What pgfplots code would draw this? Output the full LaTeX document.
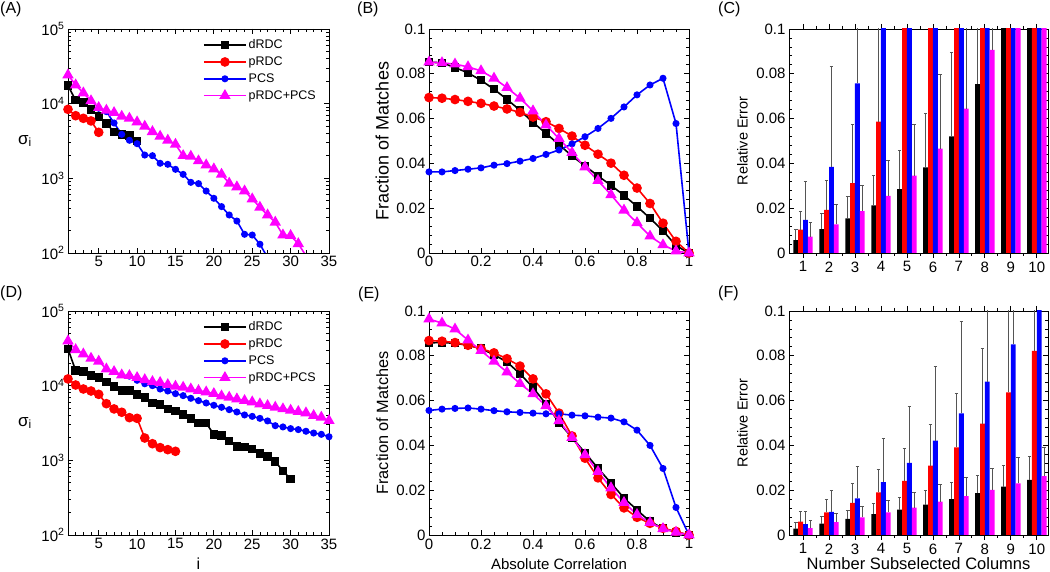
\documentclass[border=0pt]{standalone}
\usepackage{pgfplots}
\pgfplotsset{compat=1.18}
\usepackage{fontspec}
\setmainfont{Liberation Sans}
\definecolor{cblk}{RGB}{0,0,0}
\definecolor{cred}{RGB}{255,0,0}
\definecolor{cblu}{RGB}{0,0,255}
\definecolor{cmag}{RGB}{255,0,255}
\definecolor{cerr}{RGB}{85,85,85}
\pgfplotsset{
  every axis/.append style={
    scale only axis,
    axis line style={line width=0.9pt},
    every tick/.style={black, line width=0.8pt},
    major tick length=5pt,
    minor tick length=3pt,
    tick align=inside,
    tick label style={font=\fontsize{15}{17}\selectfont},
    label style={font=\fontsize{15}{17}\selectfont},
  },
  sblk/.style={line width=1.6pt, cblk, mark=square*, mark size=3.4pt},
  sred/.style={line width=1.6pt, cred, mark=*, mark size=4pt},
  sblu/.style={line width=1.6pt, cblu, mark=*, mark size=2.7pt},
  smag/.style={line width=1.6pt, cmag, mark=triangle*, mark size=5pt},
  errs/.style={error bars/.cd, y dir=plus, y explicit,
    error bar style={cerr, line width=0.8pt},
    error mark options={cerr, rotate=90, mark size=1.8pt, line width=0.8pt}},
}
\begin{document}
\begin{tikzpicture}[x=1pt,y=1pt]
% ---------------- (A)
\begin{axis}[at={(68pt,319pt)}, anchor=south west, width=261pt, height=224pt,
  ymode=log, xmin=1, xmax=35, ymin=100, ymax=100000,
  xtick={5,10,...,35}, minor xtick={1,...,35},
  ytick={100,1000,10000,100000},
  yticklabels={10\textsuperscript{2},10\textsuperscript{3},10\textsuperscript{4},10\textsuperscript{5}},
  xticklabel style={/pgf/number format/assume math mode=true},
  ylabel={σ\textsubscript{i}},
  ylabel style={rotate=-90, at={(axis description cs:-0.165,0.5)}, anchor=center, font=\fontsize{17}{19}\selectfont},
  legend style={draw=none, fill=none, at={(axis description cs:0.517,0.962)}, anchor=north west,
      font=\fontsize{12.5}{14}\selectfont, row sep=2.6pt, inner sep=0pt},
  legend cell align=left,
  legend image code/.code={\draw[mark repeat=2,mark phase=2] plot coordinates {(0pt,0pt)(21pt,0pt)(42pt,0pt)};}]
\addplot[sblk] coordinates {(1,17400)(2,11100)(3,10400)(4,8320)(5,6770)(6,5400)(7,4210)(8,3880)(9,3730)(10,3160)};
\addlegendentry{dRDC}
\addplot[sred] coordinates {(1,8390)(2,6900)(3,6360)(4,5870)(5,4130)};
\addlegendentry{pRDC}
\addplot[sblu] coordinates {(5,8670)(6,7820)(7,5510)(8,3880)(9,3230)(10,2910)(11,2050)(12,2010)(13,1590)(14,1540)(15,1320)(16,1130)(17,884)(18,849)(19,676)(20,540)(21,418)(22,323)(23,268)(24,178)(25,174)(26,131)(27,87)};
\addlegendentry{PCS}
\addplot[smag] coordinates {(1,24200)(2,17800)(3,13900)(4,10900)(5,8840)(6,8140)(7,7570)(8,6760)(9,6360)(10,5680)(11,4970)(12,4210)(13,3650)(14,3230)(15,2850)(16,2010)(17,1970)(18,1710)(19,1510)(20,1335)(21,1130)(22,858)(23,766)(24,676)(25,529)(26,409)(27,323)(28,258)(29,174)(30,171)(31,133)(32,92)};
\addlegendentry{pRDC+PCS}
\end{axis}
% ---------------- (B)
\begin{axis}[at={(429pt,319pt)}, anchor=south west, width=260pt, height=224pt,
  xmin=0, xmax=1, ymin=0, ymax=0.1,
  xtick={0,0.2,0.4,0.6,0.8,1}, xticklabels={0,0.2,0.4,0.6,0.8,1}, minor x tick num=3,
  ytick={0,0.02,0.04,0.06,0.08,0.1}, yticklabels={0,0.02,0.04,0.06,0.08,0.1}, minor y tick num=4,
  ylabel={Fraction of Matches},
  ylabel style={at={(axis description cs:-0.18,0.5)}, anchor=center, font=\fontsize{18}{20}\selectfont}]
\addplot[sblk] coordinates {(0,0.0852)(0.05,0.0849)(0.1,0.0828)(0.15,0.0804)(0.2,0.0771)(0.25,0.0731)(0.3,0.0686)(0.35,0.0637)(0.4,0.0583)(0.45,0.0534)(0.5,0.0484)(0.55,0.0433)(0.6,0.0389)(0.65,0.0344)(0.7,0.0302)(0.75,0.0257)(0.8,0.0208)(0.85,0.0155)(0.9,0.0099)(0.95,0.0033)(1,0)};
\addplot[sred] coordinates {(0,0.0694)(0.05,0.0691)(0.1,0.0685)(0.15,0.0677)(0.2,0.0668)(0.25,0.0656)(0.3,0.0643)(0.35,0.0628)(0.4,0.0607)(0.45,0.0586)(0.5,0.0556)(0.55,0.0522)(0.6,0.0481)(0.65,0.0441)(0.7,0.0401)(0.75,0.0347)(0.8,0.029)(0.85,0.0221)(0.9,0.0133)(0.95,0.0052)(1,0)};
\addplot[sblu] coordinates {(0,0.0362)(0.05,0.0362)(0.1,0.0368)(0.15,0.0374)(0.2,0.038)(0.25,0.0392)(0.3,0.0399)(0.35,0.041)(0.4,0.0422)(0.45,0.044)(0.5,0.046)(0.55,0.0487)(0.6,0.0519)(0.65,0.0556)(0.7,0.0601)(0.75,0.0652)(0.8,0.0706)(0.85,0.075)(0.9,0.078)(0.95,0.0578)(1,0)};
\addplot[smag] coordinates {(0,0.0852)(0.05,0.0849)(0.1,0.0843)(0.15,0.0831)(0.2,0.0813)(0.25,0.078)(0.3,0.0738)(0.35,0.0691)(0.4,0.0634)(0.45,0.0571)(0.5,0.0511)(0.55,0.0448)(0.6,0.0384)(0.65,0.0323)(0.7,0.026)(0.75,0.0191)(0.8,0.0135)(0.85,0.0075)(0.9,0.0036)(0.95,0.0009)(1,0)};
\end{axis}
% ---------------- (C)
\begin{axis}[at={(789pt,319pt)}, anchor=south west, width=259pt, height=224pt,
  xmin=0.46, xmax=10.43, ymin=0, ymax=0.1, ybar=0pt, bar width=4.85pt,
  xtick={1,...,10}, minor x tick num=1,
  xticklabel style={/pgf/number format/assume math mode=true},
  ytick={0,0.02,0.04,0.06,0.08,0.1}, yticklabels={0,0.02,0.04,0.06,0.08,0.1}, minor y tick num=4,
  ylabel={Relative Error},
  ylabel style={at={(axis description cs:-0.18,0.5)}, anchor=center, font=\fontsize{14.5}{16}\selectfont}]
\addplot[fill=cblk, draw=none, errs] table[x=x, y=y, y error=e] {
x y e
1 0.0058 0.0049
2 0.0106 0.0072
3 0.0155 0.0099
4 0.0213 0.0132
5 0.0285 0.0172
6 0.0382 0.0243
7 0.0521 0.0376
8 0.0754 0.0500
9 0.2 0
10 0.2 0
};
\addplot[fill=cred, draw=none, errs] table[x=x, y=y, y error=e] {
x y e
1 0.0104 0.0081
2 0.0193 0.0129
3 0.0312 0.0261
4 0.0587 0.0600
5 0.2 0
6 0.2 0
7 0.2 0
8 0.2 0
9 0.2 0
10 0.2 0
};
\addplot[fill=cblu, draw=none, errs] table[x=x, y=y, y error=e] {
x y e
1 0.0148 0.0173
2 0.0385 0.0448
3 0.0757 0.0600
4 0.2 0
5 0.2 0
6 0.2 0
7 0.2 0
8 0.2 0
9 0.2 0
10 0.2 0
};
\addplot[fill=cmag, draw=none, errs] table[x=x, y=y, y error=e] {
x y e
1 0.0073 0.0063
2 0.0128 0.0090
3 0.0187 0.0116
4 0.0255 0.0160
5 0.0345 0.0228
6 0.0466 0.0333
7 0.0645 0.0600
8 0.0907 0.0500
9 0.2 0
10 0.2 0
};
\end{axis}
% ---------------- (D)
\begin{axis}[at={(68pt,37pt)}, anchor=south west, width=261pt, height=224pt,
  ymode=log, xmin=1, xmax=35, ymin=100, ymax=100000,
  xtick={5,10,...,35}, minor xtick={1,...,35},
  ytick={100,1000,10000,100000},
  yticklabels={10\textsuperscript{2},10\textsuperscript{3},10\textsuperscript{4},10\textsuperscript{5}},
  xticklabel style={/pgf/number format/assume math mode=true},
  ylabel={σ\textsubscript{i}},
  ylabel style={rotate=-90, at={(axis description cs:-0.165,0.5)}, anchor=center, font=\fontsize{17}{19}\selectfont},
  xlabel={i}, xlabel style={at={(axis description cs:0.5,-0.152)}, anchor=base, font=\fontsize{16}{18}\selectfont},
  legend style={draw=none, fill=none, at={(axis description cs:0.517,0.962)}, anchor=north west,
      font=\fontsize{12.5}{14}\selectfont, row sep=2.6pt, inner sep=0pt},
  legend cell align=left,
  legend image code/.code={\draw[mark repeat=2,mark phase=2] plot coordinates {(0pt,0pt)(21pt,0pt)(42pt,0pt)};}]
\addplot[sblk] coordinates {(1,31000)(2,15900)(3,15400)(4,13600)(5,12800)(6,11100)(7,9800)(8,8660)(9,8570)(10,7650)(11,6900)(12,5870)(13,5620)(14,4880)(15,4580)(16,4130)(17,3650)(18,3160)(19,3160)(20,2210)(21,2140)(22,1800)(23,1540)(24,1510)(25,1420)(26,1230)(27,1130)(28,970)(29,713)(30,563)};
\addlegendentry{dRDC}
\addplot[sred] coordinates {(1,12300)(2,10200)(3,9020)(4,8480)(5,7650)(6,5740)(7,4880)(8,4400)(9,3730)(10,3650)(11,1990)(12,1670)(13,1480)(14,1390)(15,1320)};
\addlegendentry{pRDC}
\addplot[sblu] coordinates {(9,13400)(10,11800)(11,10600)(12,10000)(13,9020)(14,8480)(15,7810)(16,7350)(17,6770)(18,6300)(19,5860)(20,5460)(21,5130)(22,4770)(23,4440)(24,4050)(25,3880)(26,3650)(27,3370)(28,2910)(29,2800)(30,2660)(31,2580)(32,2450)(33,2320)(34,2230)(35,2070)};
\addlegendentry{PCS}
\addplot[smag] coordinates {(1,39600)(2,30300)(3,26500)(4,23200)(5,21200)(6,16700)(7,15400)(8,13900)(9,13600)(10,12800)(11,12000)(12,11300)(13,11000)(14,10300)(15,9790)(16,9500)(17,9020)(18,8570)(19,8220)(20,7810)(21,7270)(22,6980)(23,6630)(24,6300)(25,6040)(26,5680)(27,5400)(28,5130)(29,4880)(30,4680)(31,4490)(32,4310)(33,3970)(34,3770)(35,3400)};
\addlegendentry{pRDC+PCS}
\end{axis}
% ---------------- (E)
\begin{axis}[at={(429pt,37pt)}, anchor=south west, width=260pt, height=224pt,
  xmin=0, xmax=1, ymin=0, ymax=0.1,
  xtick={0,0.2,0.4,0.6,0.8,1}, xticklabels={0,0.2,0.4,0.6,0.8,1}, minor x tick num=3,
  ytick={0,0.02,0.04,0.06,0.08,0.1}, yticklabels={0,0.02,0.04,0.06,0.08,0.1}, minor y tick num=4,
  ylabel={Fraction of Matches},
  ylabel style={at={(axis description cs:-0.18,0.5)}, anchor=center, font=\fontsize{16.3}{18}\selectfont},
  xlabel={Absolute Correlation}, xlabel style={at={(axis description cs:0.5,-0.152)}, anchor=base, font=\fontsize{15}{17}\selectfont}]
\addplot[sblk] coordinates {(0,0.0858)(0.05,0.0859)(0.1,0.0856)(0.15,0.0847)(0.2,0.0832)(0.25,0.0805)(0.3,0.0772)(0.35,0.072)(0.4,0.0658)(0.45,0.0585)(0.5,0.0502)(0.55,0.0435)(0.6,0.0367)(0.65,0.0298)(0.7,0.0232)(0.75,0.0165)(0.8,0.0112)(0.85,0.006)(0.9,0.003)(0.95,0.0012)(1,0)};
\addplot[sred] coordinates {(0,0.0868)(0.05,0.0865)(0.1,0.0859)(0.15,0.0847)(0.2,0.0832)(0.25,0.0813)(0.3,0.0787)(0.35,0.0754)(0.4,0.0697)(0.45,0.063)(0.5,0.0544)(0.55,0.0442)(0.6,0.0343)(0.65,0.0255)(0.7,0.0181)(0.75,0.0121)(0.8,0.0079)(0.85,0.0052)(0.9,0.003)(0.95,0.0016)(1,0)};
\addplot[sblu] coordinates {(0,0.0556)(0.05,0.0562)(0.1,0.0565)(0.15,0.0567)(0.2,0.0562)(0.25,0.0555)(0.3,0.055)(0.35,0.0547)(0.4,0.0544)(0.45,0.0541)(0.5,0.0541)(0.55,0.0535)(0.6,0.0532)(0.65,0.0526)(0.7,0.0522)(0.75,0.0505)(0.8,0.0468)(0.85,0.04)(0.9,0.0297)(0.95,0.0123)(1,0)};
\addplot[smag] coordinates {(0,0.0964)(0.05,0.0946)(0.1,0.0919)(0.15,0.087)(0.2,0.0823)(0.25,0.0775)(0.3,0.0727)(0.35,0.0676)(0.4,0.063)(0.45,0.0577)(0.5,0.051)(0.55,0.0435)(0.6,0.0358)(0.65,0.0283)(0.7,0.021)(0.75,0.0145)(0.8,0.0091)(0.85,0.0055)(0.9,0.0028)(0.95,0.0012)(1,0)};
\end{axis}
% ---------------- (F)
\begin{axis}[at={(789pt,37pt)}, anchor=south west, width=259pt, height=224pt,
  xmin=0.46, xmax=10.43, ymin=0, ymax=0.1, ybar=0pt, bar width=4.85pt,
  xtick={1,...,10}, minor x tick num=1,
  xticklabel style={/pgf/number format/assume math mode=true},
  ytick={0,0.02,0.04,0.06,0.08,0.1}, yticklabels={0,0.02,0.04,0.06,0.08,0.1}, minor y tick num=4,
  ylabel={Relative Error},
  ylabel style={at={(axis description cs:-0.18,0.5)}, anchor=center, font=\fontsize{14.5}{16}\selectfont},
  xlabel={Number Subselected Columns}, xlabel style={at={(axis description cs:0.5,-0.152)}, anchor=base, font=\fontsize{16.5}{18}\selectfont}]
\addplot[fill=cblk, draw=none, errs] table[x=x, y=y, y error=e] {
x y e
1 0.0028 0.0026
2 0.0051 0.0033
3 0.0072 0.0038
4 0.0093 0.0046
5 0.0113 0.0053
6 0.0136 0.0063
7 0.0160 0.0073
8 0.0187 0.0080
9 0.0216 0.0093
10 0.0246 0.0105
};
\addplot[fill=cred, draw=none, errs] table[x=x, y=y, y error=e] {
x y e
1 0.0060 0.0044
2 0.0101 0.0059
3 0.0143 0.0087
4 0.0190 0.0104
5 0.0242 0.0146
6 0.0310 0.0183
7 0.0391 0.0239
8 0.0497 0.0336
9 0.0637 0.0500
10 0.0822 0.0500
};
\addplot[fill=cblu, draw=none, errs] table[x=x, y=y, y error=e] {
x y e
1 0.0049 0.0058
2 0.0103 0.0097
3 0.0163 0.0144
4 0.0236 0.0194
5 0.0322 0.0250
6 0.0421 0.0330
7 0.0543 0.0409
8 0.0685 0.0500
9 0.0851 0.0500
10 0.1020 0.0500
};
\addplot[fill=cmag, draw=none, errs] table[x=x, y=y, y error=e] {
x y e
1 0.0031 0.0032
2 0.0057 0.0040
3 0.0079 0.0049
4 0.0101 0.0054
5 0.0122 0.0066
6 0.0149 0.0075
7 0.0173 0.0084
8 0.0201 0.0098
9 0.0231 0.0117
10 0.0263 0.0128
};
\end{axis}
% ---------------- panel labels
\node[anchor=base west, inner sep=0pt, font=\fontsize{16}{18}\selectfont] at (0pt,558.5pt) {(A)};
\node[anchor=base west, inner sep=0pt, font=\fontsize{16}{18}\selectfont] at (357pt,558pt) {(B)};
\node[anchor=base west, inner sep=0pt, font=\fontsize{16}{18}\selectfont] at (718pt,558pt) {(C)};
\node[anchor=base west, inner sep=0pt, font=\fontsize{16}{18}\selectfont] at (0pt,274.3pt) {(D)};
\node[anchor=base west, inner sep=0pt, font=\fontsize{16}{18}\selectfont] at (358pt,273.7pt) {(E)};
\node[anchor=base west, inner sep=0pt, font=\fontsize{16}{18}\selectfont] at (718pt,274pt) {(F)};
\pgfresetboundingbox
\useasboundingbox (0pt,0pt) rectangle (1050pt,572pt);
\end{tikzpicture}
\end{document}
